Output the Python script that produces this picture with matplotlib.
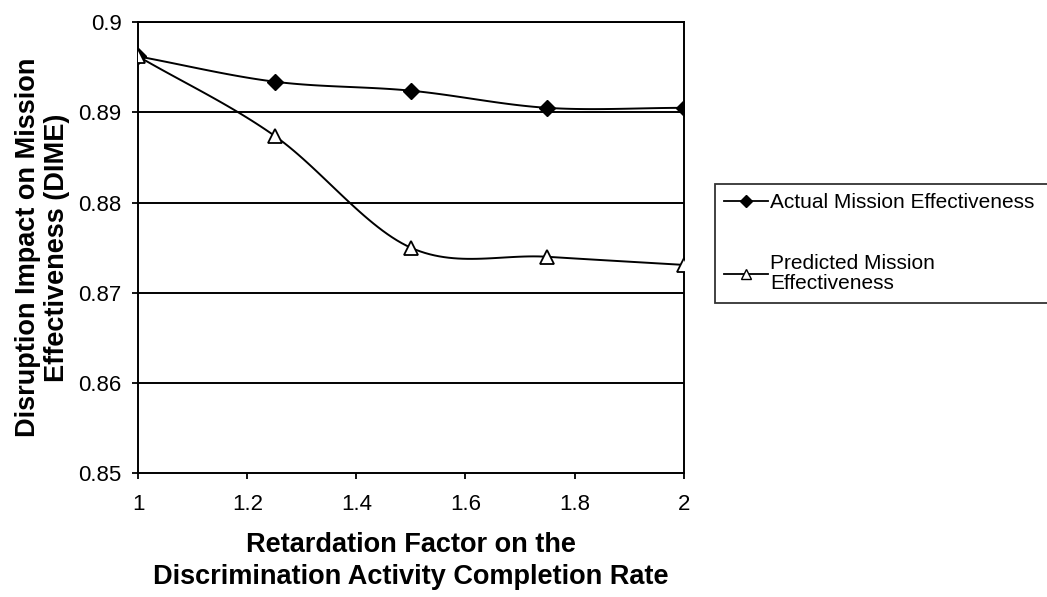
import numpy as np
import matplotlib
matplotlib.use('Agg')
import matplotlib.pyplot as plt

plt.rcParams['font.family'] = ['Liberation Sans', 'DejaVu Sans']

factor    = [1.0, 1.25, 1.5, 1.75, 2.0]
actual    = [0.8962, 0.8934, 0.8924, 0.8905, 0.8905]
predicted = [0.8962, 0.8874, 0.8750, 0.8740, 0.8731]
y_ticks   = [0.85, 0.86, 0.87, 0.88, 0.89, 0.9]
x_ticks   = [1, 1.2, 1.4, 1.6, 1.8, 2]


def smooth(x, y, n=30):
    # Catmull-Rom curve through the points, like a spreadsheet "smoothed line"
    x = np.asarray(x); y = np.asarray(y)
    px = np.concatenate([[2 * x[0] - x[1]], x, [2 * x[-1] - x[-2]]])
    py = np.concatenate([[2 * y[0] - y[1]], y, [2 * y[-1] - y[-2]]])
    xs, ys = [], []
    t = np.linspace(0, 1, n)
    for i in range(1, len(px) - 2):
        for p, out in ((px, xs), (py, ys)):
            p0, p1, p2, p3 = p[i - 1], p[i], p[i + 1], p[i + 2]
            out.extend(0.5 * (2 * p1 + (-p0 + p2) * t
                              + (2 * p0 - 5 * p1 + 4 * p2 - p3) * t ** 2
                              + (-p0 + 3 * p1 - 3 * p2 + p3) * t ** 3))
    return xs, ys


fig = plt.figure(figsize=(10.47, 5.97), dpi=100)
ax = fig.add_axes([0.132, 0.207, 0.521, 0.756])

for yv in y_ticks[1:]:
    ax.axhline(yv, color='black', lw=1.4, zorder=1)

sx, sy = smooth(factor, actual)
ax.plot(sx, sy, color='black', lw=1.4, zorder=2)
ax.plot(factor, actual, ls='none', marker='D', ms=8, color='black', zorder=3)
sx, sy = smooth(factor, predicted)
ax.plot(sx, sy, color='black', lw=1.4, zorder=2)
ax.plot(factor, predicted, ls='none', marker='^', ms=10, mfc='white',
        mec='black', mew=1.3, zorder=3)

ax.set_xlim(1, 2)
ax.set_ylim(0.85, 0.9)
ax.set_xticks(x_ticks)
ax.set_xticklabels(['1', '1.2', '1.4', '1.6', '1.8', '2'])
ax.set_yticks(y_ticks)
ax.set_yticklabels(['0.85', '0.86', '0.87', '0.88', '0.89', '0.9'])
ax.tick_params(direction='out', length=4, width=1.3, labelsize=16, pad=8)
ax.tick_params(axis='x', pad=11)
for s in ax.spines.values():
    s.set_linewidth(1.4)
    s.set_color('black')

ax.set_xlabel('Retardation Factor on the\nDiscrimination Activity Completion Rate',
              fontsize=19.5, fontweight='bold', labelpad=12, linespacing=1.3)
ax.set_ylabel('Disruption Impact on Mission\nEffectiveness (DIME)',
              fontsize=19.5, fontweight='bold', labelpad=6, linespacing=1.15)

handles = [
    plt.Line2D([], [], color='black', lw=1.3, marker='D', ms=6),
    plt.Line2D([], [], color='black', lw=1.3, marker='^', ms=7, mfc='white', mec='black'),
]
leg = fig.legend(handles, ['Actual Mission Effectiveness', 'Predicted Mission\nEffectiveness'],
                 loc='upper left', bbox_to_anchor=(0.683, 0.486, 0.4, 0.206),
                 mode='expand', fontsize=15, frameon=True, fancybox=False,
                 edgecolor='black', handlelength=2.1, handletextpad=0.1,
                 borderpad=0.45, labelspacing=2.0, borderaxespad=0)
leg.get_frame().set_linewidth(1.3)
for t in leg.get_texts():
    t.set_linespacing(1.1)

fig.savefig('out.png', dpi=100)
